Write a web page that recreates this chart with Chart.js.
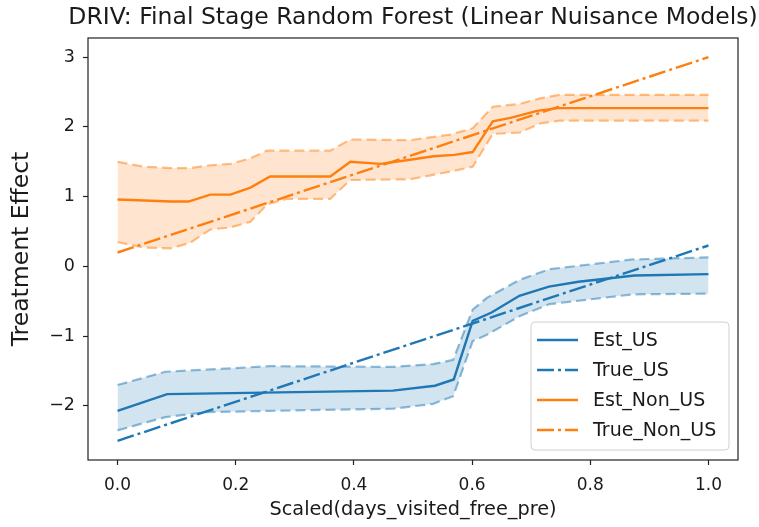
<!DOCTYPE html>
<html><head><meta charset="utf-8">
<script src="https://cdn.jsdelivr.net/npm/chart.js@4.4.1/dist/chart.umd.min.js"></script>
<style>html,body{margin:0;padding:0;background:#fff}</style>
</head><body>
<canvas id="c" width="759" height="527"></canvas>
<script>
// ---- data ----
const titleText = 'DRIV: Final Stage Random Forest (Linear Nuisance Models)';
const xTitle = 'Scaled(days_visited_free_pre)';
const yTitle = 'Treatment Effect';
const seriesLabels = ['Est_US', 'True_US', 'Est_Non_US', 'True_Non_US'];

const xTicks = [0, 0.2, 0.4, 0.6, 0.8, 1.0];
const xTickLabels = ['0.0', '0.2', '0.4', '0.6', '0.8', '1.0'];
const yTicks = [-2, -1, 0, 1, 2, 3];
const yTickLabels = ['\u22122', '\u22121', '0', '1', '2', '3'];

// US
const estX_US = [0, 0.084, 0.466, 0.537, 0.569, 0.601, 0.633, 0.68, 0.73, 0.78, 0.875, 1.0];
const est_US  = [-2.07, -1.83, -1.78, -1.71, -1.62, -0.78, -0.66, -0.42, -0.29, -0.22, -0.13, -0.11];
const trueX_US = [0, 1];
const true_US  = [-2.5, 0.3];
const bandX_US = [0, 0.081, 0.15, 0.258, 0.466, 0.534, 0.568, 0.601, 0.625, 0.681, 0.731, 0.872, 1.0];
const upper_US = [-1.70, -1.51, -1.48, -1.43, -1.44, -1.40, -1.34, -0.62, -0.45, -0.19, -0.04, 0.10, 0.13];
const lower_US = [-2.35, -2.16, -2.09, -2.07, -2.04, -1.97, -1.86, -1.07, -0.98, -0.71, -0.54, -0.40, -0.39];

// Non-US
const estX_NonUS = [0, 0.09, 0.12, 0.157, 0.191, 0.225, 0.258, 0.360, 0.394, 0.445, 0.495, 0.535, 0.57, 0.601, 0.635, 0.665, 0.71, 0.745, 1.0];
const est_NonUS  = [0.96, 0.93, 0.93, 1.03, 1.03, 1.13, 1.29, 1.29, 1.50, 1.47, 1.53, 1.58, 1.60, 1.64, 2.08, 2.13, 2.23, 2.27, 2.27];
const trueX_NonUS = [0, 1];
const true_NonUS  = [0.2, 3.0];
const bandX_NonUS = [0, 0.044, 0.090, 0.123, 0.157, 0.191, 0.225, 0.253, 0.287, 0.360, 0.394, 0.495, 0.563, 0.601, 0.635, 0.681, 0.715, 0.748, 1.0];
const upper_NonUS = [1.50, 1.43, 1.41, 1.41, 1.45, 1.47, 1.55, 1.66, 1.66, 1.66, 1.82, 1.81, 1.89, 1.98, 2.29, 2.33, 2.41, 2.46, 2.46];
const lower_NonUS = [0.35, 0.27, 0.26, 0.34, 0.53, 0.56, 0.64, 0.89, 0.97, 0.97, 1.24, 1.25, 1.36, 1.43, 1.90, 1.92, 2.05, 2.09, 2.09];

// ---- styling ----
const FONT = "'DejaVu Sans', sans-serif";
const TEXT = '#1a1a1a';
const BLUE = '#1f77b4', ORANGE = '#ff7f0e';
const DASHDOT = [17, 4, 3, 4];
const DASHED = [10, 5];

function pts(xs, ys) { return xs.map((x, i) => ({x: x, y: ys[i]})); }

const datasets = [
  {label: seriesLabels[0], data: pts(estX_US, est_US), borderColor: BLUE, borderWidth: 2.4, order: 0},
  {label: seriesLabels[1], data: pts(trueX_US, true_US), borderColor: BLUE, borderWidth: 2.4, borderDash: DASHDOT, order: 0},
  {label: seriesLabels[2], data: pts(estX_NonUS, est_NonUS), borderColor: ORANGE, borderWidth: 2.4, order: 0},
  {label: seriesLabels[3], data: pts(trueX_NonUS, true_NonUS), borderColor: ORANGE, borderWidth: 2.4, borderDash: DASHDOT, order: 0},
  {label: 'US upper', data: pts(bandX_US, upper_US), borderColor: 'rgba(31,119,180,0.5)', borderWidth: 2.2, borderDash: DASHED, fill: false, order: 1},
  {label: 'US lower', data: pts(bandX_US, lower_US), borderColor: 'rgba(31,119,180,0.5)', borderWidth: 2.2, borderDash: DASHED,
   fill: {target: 4}, backgroundColor: 'rgba(31,119,180,0.2)', order: 1},
  {label: 'Non-US upper', data: pts(bandX_NonUS, upper_NonUS), borderColor: 'rgba(255,127,14,0.5)', borderWidth: 2.2, borderDash: DASHED, fill: false, order: 1},
  {label: 'Non-US lower', data: pts(bandX_NonUS, lower_NonUS), borderColor: 'rgba(255,127,14,0.5)', borderWidth: 2.2, borderDash: DASHED,
   fill: {target: 6}, backgroundColor: 'rgba(255,127,14,0.2)', order: 1}
];
datasets.forEach(d => { d.pointRadius = 0; d.tension = 0; if (d.fill === undefined) d.fill = false; });

// centre the (wide) title over the plot area, like matplotlib does
const titleCenterPlugin = {
  id: 'titleCenter',
  afterLayout(chart) {
    const t = chart.titleBlock, a = chart.chartArea;
    if (!t) return;
    const c = (a.left + a.right) / 2, half = 350;
    t.left = c - half; t.right = c + half; t.width = 2 * half;
  }
};

const framePlugin = {
  id: 'frame',
  afterDatasetsDraw(chart) {
    const {ctx, chartArea: a} = chart;
    ctx.save();
    ctx.strokeStyle = '#222';
    ctx.lineWidth = 1.2;
    ctx.strokeRect(a.left, a.top, a.right - a.left, a.bottom - a.top);
    ctx.restore();
  }
};

const legendPlugin = {
  id: 'boxLegend',
  afterDraw(chart) {
    const {ctx, chartArea: a} = chart;
    const w = 198, h = 128;
    const x0 = a.right - 9 - w, y0 = a.bottom - 10 - h;
    ctx.save();
    ctx.beginPath();
    const r = 4;
    ctx.moveTo(x0 + r, y0);
    ctx.arcTo(x0 + w, y0, x0 + w, y0 + h, r);
    ctx.arcTo(x0 + w, y0 + h, x0, y0 + h, r);
    ctx.arcTo(x0, y0 + h, x0, y0, r);
    ctx.arcTo(x0, y0, x0 + w, y0, r);
    ctx.closePath();
    ctx.fillStyle = 'rgba(255,255,255,0.8)';
    ctx.fill();
    ctx.strokeStyle = '#d0d0d0';
    ctx.lineWidth = 1;
    ctx.stroke();
    ctx.font = '19px ' + FONT;
    ctx.textBaseline = 'middle';
    for (let i = 0; i < 4; i++) {
      const ds = chart.data.datasets[i];
      const cy = y0 + 18 + i * 30;
      ctx.beginPath();
      ctx.setLineDash(ds.borderDash || []);
      ctx.strokeStyle = ds.borderColor;
      ctx.lineWidth = 2.4;
      ctx.moveTo(x0 + 6, cy);
      ctx.lineTo(x0 + 47, cy);
      ctx.stroke();
      ctx.setLineDash([]);
      ctx.fillStyle = TEXT;
      ctx.fillText(ds.label, x0 + 62, cy + 1);
    }
    ctx.restore();
  }
};

new Chart(document.getElementById('c'), {
  type: 'line',
  data: {datasets: datasets},
  plugins: [titleCenterPlugin, framePlugin, legendPlugin],
  options: {
    responsive: false,
    animation: false,
    devicePixelRatio: 1,
    layout: {padding: {left: 0, right: 21, top: 0, bottom: 0}},
    plugins: {
      legend: {display: false},
      tooltip: {enabled: false},
      title: {display: true, text: titleText, color: TEXT,
              font: {family: FONT, size: 23.5, weight: 'normal', lineHeight: 1.2},
              padding: {top: 4, bottom: 5.8}}
    },
    scales: {
      x: {
        type: 'linear', min: -0.05, max: 1.05,
        afterBuildTicks: s => { s.ticks = xTicks.map(v => ({value: v})); },
        afterFit: s => { s.height = 67; },
        ticks: {color: TEXT, font: {family: FONT, size: 17}, padding: 10, maxRotation: 0,
                callback: (v, i) => xTickLabels[i]},
        grid: {drawOnChartArea: false, drawTicks: true, tickLength: 5, tickColor: '#222', tickWidth: 1.2},
        border: {display: false},
        title: {display: true, text: xTitle, color: TEXT, font: {family: FONT, size: 19.3, lineHeight: 1.2},
                padding: {top: 0, bottom: 5.4}}
      },
      y: {
        type: 'linear', min: -2.775, max: 3.275,
        afterBuildTicks: s => { s.ticks = yTicks.map(v => ({value: v})); },
        afterFit: s => { s.width = 88; },
        ticks: {color: TEXT, font: {family: FONT, size: 17.5}, padding: 8,
                callback: (v, i) => yTickLabels[i]},
        grid: {drawOnChartArea: false, drawTicks: true, tickLength: 5, tickColor: '#222', tickWidth: 1.2},
        border: {display: false},
        title: {display: true, text: yTitle, color: TEXT, font: {family: FONT, size: 23.5, lineHeight: 1.2},
                padding: {top: 7.9, bottom: 0}}
      }
    }
  }
});
</script>
</body></html>
